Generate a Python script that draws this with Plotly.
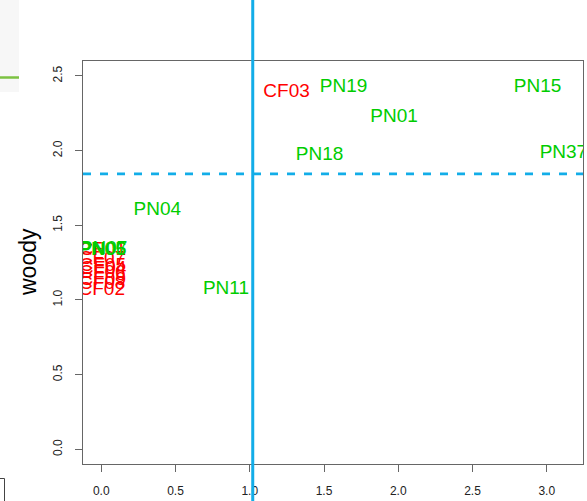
import plotly.graph_objects as go

# ---- data ----
pn_labels = ["PN19", "PN15", "PN01", "PN18", "PN37", "PN04", "PN11", "PN05", "PN06", "PN07"]
pn_x = [1.632, 2.938, 1.972, 1.470, 3.112, 0.377, 0.840, 0.005, 0.010, 0.015]
pn_y = [2.427, 2.422, 2.226, 1.971, 1.982, 1.598, 1.072, 1.330, 1.335, 1.340]

cf_labels = ["CF03", "CF01", "CF07", "CF05", "CF04", "CF06", "CF09", "CF08", "CF02"]
cf_x = [1.248, 0.010, 0.005, 0.010, 0.012, 0.008, 0.010, 0.006, 0.003]
cf_y = [2.393, 1.330, 1.275, 1.228, 1.208, 1.181, 1.134, 1.107, 1.067]

x_ticks = [0.0, 0.5, 1.0, 1.5, 2.0, 2.5, 3.0]
y_ticks = [0.0, 0.5, 1.0, 1.5, 2.0, 2.5]
x_range = [-0.123, 3.244]
y_range = [-0.098, 2.60]
vline_x = 1.02
hline_y = 1.844
y_title = "woody"

# ---- layout geometry ----
W, H = 587, 501
ML, MR, MT, MB = 83, 4, 61, 37
PW, PH = W - ML - MR, H - MT - MB


def px_x(p):
    return (p - ML) / PW


def px_y(p):
    return (H - MB - p) / PH


green = "#00CD00"
red = "#FF0000"
blue = "#12ADE8"
axis_col = "#666666"
FONT = "Liberation Sans, Arial, sans-serif"

fig = go.Figure()
fig.add_trace(go.Scatter(x=cf_x, y=cf_y, text=cf_labels, mode="text",
                         textposition="middle center",
                         textfont=dict(color=red, size=19, family=FONT),
                         hoverinfo="text", showlegend=False))
fig.add_trace(go.Scatter(x=pn_x, y=pn_y, text=pn_labels, mode="text",
                         textposition="middle center",
                         textfont=dict(color=green, size=19, family=FONT),
                         hoverinfo="text", showlegend=False))

shapes = [
    # vertical solid line extending over the full page height
    dict(type="line", xref="x", yref="paper", x0=vline_x, x1=vline_x,
         y0=px_y(H + 5), y1=px_y(-5), line=dict(color=blue, width=3)),
    # horizontal dashed line
    dict(type="line", xref="paper", yref="y", x0=0, x1=1, y0=hline_y, y1=hline_y,
         line=dict(color=blue, width=2.6, dash="8px,9px")),
    # page decorations outside the plot
    dict(type="rect", xref="paper", yref="paper", x0=px_x(0), x1=px_x(19),
         y0=px_y(92), y1=px_y(0), fillcolor="#f7f7f7", line=dict(width=0),
         layer="below"),
    dict(type="line", xref="paper", yref="paper", x0=px_x(0), x1=px_x(19),
         y0=px_y(77.5), y1=px_y(77.5), line=dict(color="#7cc242", width=2.5)),
    dict(type="path", xref="paper", yref="paper",
         path="M {a},{b} L {c},{b} L {c},{d}".format(
             a=px_x(0), b=px_y(478.5), c=px_x(4.5), d=px_y(502)),
         line=dict(color="#444444", width=1)),
]

annotations = [
    dict(text=y_title, xref="paper", yref="paper", x=px_x(28), y=px_y(262),
         textangle=-90, showarrow=False, xanchor="center", yanchor="middle",
         font=dict(size=23, color="#000000", family=FONT)),
]

fig.update_layout(
    width=W, height=H,
    margin=dict(l=ML, r=MR, t=MT, b=MB, pad=0),
    paper_bgcolor="white", plot_bgcolor="white",
    shapes=shapes, annotations=annotations,
    font=dict(family=FONT, color="#222222"),
    xaxis=dict(range=x_range, tickvals=x_ticks,
               ticktext=["%.1f" % v for v in x_ticks],
               showgrid=False, zeroline=False, showline=True, mirror=True,
               linecolor=axis_col, linewidth=1.3, ticks="outside", ticklen=7,
               tickcolor=axis_col, tickwidth=1,
               tickfont=dict(size=12, color="#222222", family=FONT),
               ticklabelstandoff=8),
    yaxis=dict(range=y_range, tickvals=y_ticks,
               ticktext=["%.1f" % v for v in y_ticks],
               showgrid=False, zeroline=False, showline=True, mirror=True,
               linecolor=axis_col, linewidth=1.3, ticks="outside", ticklen=7,
               tickcolor=axis_col, tickwidth=1, tickangle=-90,
               tickfont=dict(size=12, color="#222222", family=FONT),
               ticklabelstandoff=8),
)

fig.write_html(
    "out.html",
    config={"displayModeBar": False},
    post_script="document.body.style.margin='0px';document.body.style.overflow='hidden';",
)
